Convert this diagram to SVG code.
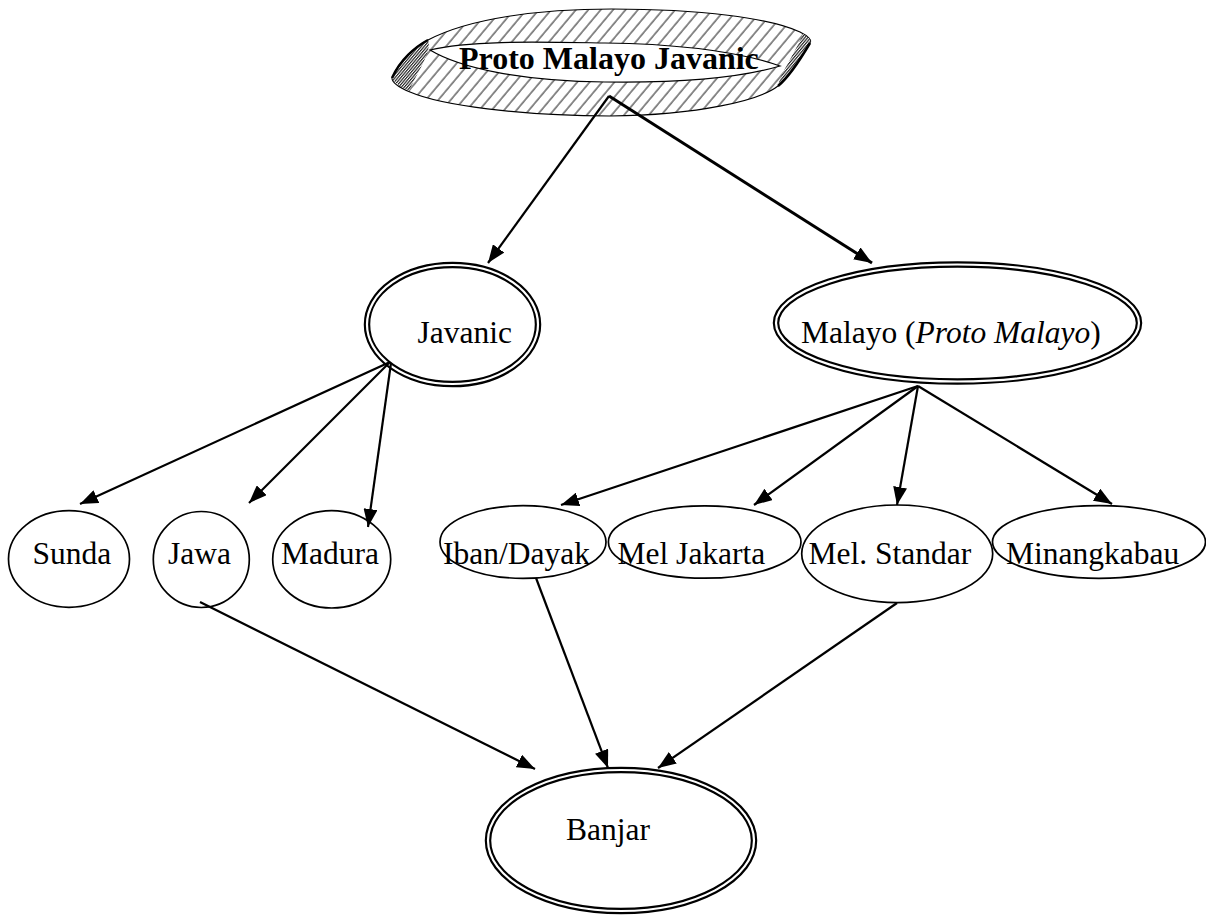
<svg xmlns="http://www.w3.org/2000/svg" width="1206" height="915" viewBox="0 0 1206 915">
<defs>
<pattern id="hatch" patternUnits="userSpaceOnUse" width="9.5" height="9.5" patternTransform="rotate(40)">
<rect width="9.5" height="9.5" fill="#fff"/>
<line x1="1" y1="0" x2="1" y2="9.5" stroke="#000" stroke-width="0.9"/>
</pattern>
<pattern id="dense" patternUnits="userSpaceOnUse" width="2.2" height="2.2" patternTransform="rotate(40)">
<rect width="2.2" height="2.2" fill="#fff"/>
<line x1="0.6" y1="0" x2="0.6" y2="2.2" stroke="#000" stroke-width="1"/>
</pattern>
<marker id="arr" markerUnits="userSpaceOnUse" markerWidth="18" markerHeight="14" refX="18" refY="7" orient="auto">
<path d="M0,0 L18,7 L0,14 Z" fill="#000"/>
</marker>
</defs>
<style>
text{font-family:"Liberation Serif","Times New Roman",serif;font-size:31.5px;fill:#000}
.title{font-weight:bold;font-size:32px}
.single{fill:#fff;stroke:#000;stroke-width:1.7}
.dbl-o{fill:#fff;stroke:#000;stroke-width:6.5}
.dbl-i{fill:none;stroke:#fff;stroke-width:2.2}
.conn line{stroke:#000;stroke-width:2.2;marker-end:url(#arr)}
</style>
<g id="proto">
<path d="M392,78 C400,60 415,47 428,40 C470,18 540,9 612,9 C700,9 770,18 800,32 C808,36 812,40 810,43 C800,60 790,76 778,86 C760,100 700,115 610,116 C520,116 440,105 410,92 C398,87 392,82 392,78 Z" fill="url(#hatch)" stroke="#000" stroke-width="1.2"/>
<path d="M392,78 C400,60 415,47 428,40 C432,50 420,68 409,91 C400,87 394,82 392,78 Z" fill="url(#dense)"/>
<path d="M803,34 C808,37 812,40 810,43 C800,60 790,76 778,86 C781,72 794,55 803,34 Z" fill="url(#dense)"/>
<path d="M392,78 C400,60 415,47 428,40" fill="none" stroke="#000" stroke-width="2.5"/>
<path d="M810,43 C800,60 790,76 778,86" fill="none" stroke="#000" stroke-width="2.5"/>
<path d="M430,50 C470,40 540,42 605,43 C680,44 740,52 780,66 C740,78 680,83 605,82 C520,81 460,68 430,50 Z" fill="#fff" stroke="#000" stroke-width="1.2"/>
<text class="title" x="459" y="69">Proto Malayo Javanic</text>
</g>
<g id="javanic">
<ellipse class="dbl-o" cx="452.5" cy="324.5" rx="85.5" ry="59.5"/>
<ellipse class="dbl-i" cx="452.5" cy="324.5" rx="85.5" ry="59.5"/>
<text x="417.5" y="343">Javanic</text>
</g>
<g id="malayo">
<ellipse class="dbl-o" cx="957.5" cy="323" rx="181.5" ry="58.5"/>
<ellipse class="dbl-i" cx="957.5" cy="323" rx="181.5" ry="58.5"/>
<text x="801" y="343">Malayo (<tspan font-style="italic">Proto Malayo</tspan>)</text>
</g>
<g id="banjar">
<ellipse class="dbl-o" cx="621" cy="840.5" rx="133" ry="70.5"/>
<ellipse class="dbl-i" cx="621" cy="840.5" rx="133" ry="70.5"/>
<text x="566" y="840">Banjar</text>
</g>
<g id="sunda">
<ellipse class="single" cx="69" cy="559" rx="60.5" ry="48.3"/>
<text x="32.5" y="564">Sunda</text>
</g>
<g id="jawa">
<ellipse class="single" cx="201.3" cy="559.5" rx="48" ry="48"/>
<text x="168" y="564">Jawa</text>
</g>
<g id="madura">
<ellipse class="single" cx="331.7" cy="559.3" rx="59" ry="48.7"/>
<text x="281" y="564">Madura</text>
</g>
<g id="iban">
<ellipse class="single" cx="523" cy="542" rx="83" ry="36.3"/>
<text x="443" y="564">Iban/Dayak</text>
</g>
<g id="meljakarta">
<ellipse class="single" cx="704.7" cy="542" rx="96.3" ry="36.2"/>
<text x="617.5" y="564">Mel Jakarta</text>
</g>
<g id="melstandar">
<ellipse class="single" cx="897.2" cy="553.8" rx="95.5" ry="48.8"/>
<text x="808.5" y="564">Mel. Standar</text>
</g>
<g id="minangkabau">
<ellipse class="single" cx="1099" cy="542" rx="106.5" ry="36.3"/>
<text x="1006" y="564">Minangkabau</text>
</g>
<g id="connectors" class="conn">
<line x1="609" y1="96" x2="488" y2="263"/>
<line x1="609" y1="96" x2="872" y2="263" style="stroke-width:3"/>
<line x1="390" y1="362" x2="80" y2="504"/>
<line x1="390" y1="362" x2="249" y2="503"/>
<line x1="391" y1="363" x2="368" y2="527"/>
<line x1="918" y1="386" x2="561" y2="505"/>
<line x1="918" y1="386" x2="754" y2="505"/>
<line x1="918" y1="386" x2="897" y2="505"/>
<line x1="918" y1="386" x2="1112" y2="504"/>
<line x1="200" y1="602" x2="535" y2="769"/>
<line x1="536" y1="578" x2="608" y2="768"/>
<line x1="897" y1="603" x2="658" y2="768"/>
</g>
</svg>
